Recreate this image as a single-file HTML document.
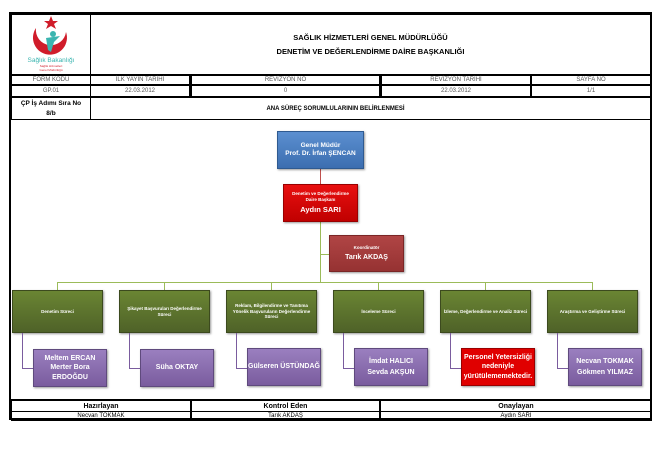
<!DOCTYPE html>
<html><head><meta charset="utf-8"><style>
body{margin:0;width:661px;height:459px;background:#fff;font-family:"Liberation Sans",sans-serif;position:relative;overflow:hidden}
.a{position:absolute;box-sizing:border-box}
.c{display:flex;align-items:center;justify-content:center;text-align:center}
.b{border:1px solid #000}
.g{font-size:6px;color:#555}
.bx{color:#fff;font-weight:bold;box-shadow:1px 1px 2px rgba(0,0,0,.4);flex-direction:column;line-height:1.3}
.pr{background:linear-gradient(#6a8533,#4f6228);border:1px solid #3c4a1e;font-size:4.5px}
.pe{background:linear-gradient(#9a7fbf,#7a5c9e);border:1px solid #5f4a7d;font-size:7px}
.ln{position:absolute;background:#9bbb59}
.lp{position:absolute;background:#7a5c9e}
</style></head><body>
<div class="a" style="left:9px;top:12px;width:643px;height:408px;border:2px solid #000"></div>
<div class="a" style="left:9px;top:12px;width:643px;height:2px;background:#000"></div>
<!-- header -->
<div class="a b" style="left:11px;top:14px;width:80px;height:61px"></div>
<svg class="a" style="left:18px;top:14px" width="66" height="58">
<polygon points="33,2 35,7 40,7 36,10 38,15 33,12 28,15 30,10 26,7 31,7" fill="#d01c2a"/>
<path d="M18 14 A17 17 0 1 0 48 18 A14 14 0 1 1 18 14Z" fill="#d01c2a"/>
<circle cx="35" cy="20" r="3" fill="#3bb5b0"/><path d="M28 24 L42 22 L36 28 L33 38 L30 36 Z" fill="#3bb5b0"/>
<text x="33" y="48" font-size="6.5" fill="#3bb5b0" text-anchor="middle" font-family="Liberation Sans">Sağlık Bakanlığı</text>
<text x="33" y="53" font-size="3" fill="#d01c2a" text-anchor="middle" font-family="Liberation Sans">Sağlık Hizmetleri</text>
<text x="33" y="57" font-size="3" fill="#d01c2a" text-anchor="middle" font-family="Liberation Sans">Genel Müdürlüğü</text>
</svg>
<div class="a b c" style="left:90px;top:14px;width:561px;height:61px;font-size:7.5px;font-weight:bold;line-height:1.8;flex-direction:column"><div>SAĞLIK HİZMETLERİ GENEL MÜDÜRLÜĞÜ</div><div>DENETİM VE DEĞERLENDİRME DAİRE BAŞKANLIĞI</div></div>
<div class="a b c g" style="left:11px;top:75px;width:80px;height:10px">FORM KODU</div>
<div class="a b c g" style="left:90px;top:75px;width:100px;height:10px">İLK YAYIN TARİHİ</div>
<div class="a b c g" style="left:190px;top:75px;width:191px;height:10px;border-width:1px 2px">REVİZYON NO</div>
<div class="a b c g" style="left:380px;top:75px;width:152px;height:10px;border-width:1px 2px">REVİZYON TARİHİ</div>
<div class="a b c g" style="left:531px;top:75px;width:120px;height:10px">SAYFA NO</div>
<div class="a b c g" style="left:11px;top:85px;width:80px;height:12px">GP.01</div>
<div class="a b c g" style="left:90px;top:85px;width:100px;height:12px">22.03.2012</div>
<div class="a b c g" style="left:190px;top:85px;width:191px;height:12px;border-width:1px 2px">0</div>
<div class="a b c g" style="left:380px;top:85px;width:152px;height:12px;border-width:1px 2px">22.03.2012</div>
<div class="a b c g" style="left:531px;top:85px;width:120px;height:12px">1/1</div>
<div class="a b c" style="left:11px;top:97px;width:80px;height:23px;font-size:6.5px;font-weight:bold;flex-direction:column;line-height:1.4"><div>ÇP İş Adımı Sıra No</div><div>8/b</div></div>
<div class="a b c" style="left:90px;top:97px;width:561px;height:23px;font-size:6px;font-weight:bold;padding-right:70px">ANA SÜREÇ SORUMLULARININ BELİRLENMESİ</div>
<!-- chart lines -->
<div class="a" style="left:320px;top:169px;width:1px;height:15px;background:#c0504d"></div>
<div class="ln" style="left:320px;top:222px;width:1px;height:60px"></div>
<div class="ln" style="left:320px;top:254px;width:10px;height:1px"></div>
<div class="ln" style="left:57px;top:282px;width:536px;height:1px"></div>
<div class="ln" style="left:57px;top:282px;width:1px;height:8px"></div>
<div class="ln" style="left:164px;top:282px;width:1px;height:8px"></div>
<div class="ln" style="left:271px;top:282px;width:1px;height:8px"></div>
<div class="ln" style="left:378px;top:282px;width:1px;height:8px"></div>
<div class="ln" style="left:485px;top:282px;width:1px;height:8px"></div>
<div class="ln" style="left:592px;top:282px;width:1px;height:8px"></div>
<!-- top boxes -->
<div class="a c bx" style="left:277px;top:131px;width:87px;height:38px;background:linear-gradient(#5b8fd0,#3c6eb0);border:1px solid #2f5a90;font-size:6.5px"><div>Genel Müdür</div><div>Prof. Dr. İrfan ŞENCAN</div></div>
<div class="a c bx" style="left:283px;top:184px;width:75px;height:38px;background:linear-gradient(#e81010,#c00000);border:1px solid #900;font-size:4.5px"><div>Denetim ve Değerlendirme<br>Daire Başkanı</div><div style="font-size:7.5px;margin-top:2px">Aydın SARI</div></div>
<div class="a c bx" style="left:329px;top:235px;width:75px;height:37px;background:linear-gradient(#b04545,#963232);border:1px solid #7a2626;font-size:4.5px"><div>Koordinatör</div><div style="font-size:7px;margin-top:2px">Tarık AKDAŞ</div></div>
<!-- process -->
<div class="a c bx pr" style="left:12px;top:290px;width:91px;height:43px">Denetim Süreci</div>
<div class="a c bx pr" style="left:119px;top:290px;width:91px;height:43px">Şikayet Başvuruları Değerlendirme Süreci</div>
<div class="a c bx pr" style="left:226px;top:290px;width:91px;height:43px">Reklam, Bilgilendirme ve Tanıtıma Yönelik Başvuruların Değerlendirme Süreci</div>
<div class="a c bx pr" style="left:333px;top:290px;width:91px;height:43px">İnceleme Süreci</div>
<div class="a c bx pr" style="left:440px;top:290px;width:91px;height:43px">İzleme, Değerlendirme ve Analiz Süreci</div>
<div class="a c bx pr" style="left:547px;top:290px;width:91px;height:43px">Araştırma ve Geliştirme Süreci</div>
<!-- connectors -->
<div class="lp" style="left:22px;top:333px;width:1px;height:35px"></div><div class="lp" style="left:22px;top:368px;width:11px;height:1px"></div>
<div class="lp" style="left:129px;top:333px;width:1px;height:35px"></div><div class="lp" style="left:129px;top:368px;width:11px;height:1px"></div>
<div class="lp" style="left:236px;top:333px;width:1px;height:35px"></div><div class="lp" style="left:236px;top:368px;width:11px;height:1px"></div>
<div class="lp" style="left:343px;top:333px;width:1px;height:35px"></div><div class="lp" style="left:343px;top:368px;width:11px;height:1px"></div>
<div class="lp" style="left:450px;top:333px;width:1px;height:35px"></div><div class="lp" style="left:450px;top:368px;width:11px;height:1px"></div>
<div class="lp" style="left:557px;top:333px;width:1px;height:35px"></div><div class="lp" style="left:557px;top:368px;width:11px;height:1px"></div>
<!-- persons -->
<div class="a c bx pe" style="left:33px;top:349px;width:74px;height:38px"><div>Meltem ERCAN</div><div>Merter Bora<br>ERDOĞDU</div></div>
<div class="a c bx pe" style="left:140px;top:349px;width:74px;height:38px">Süha OKTAY</div>
<div class="a c bx pe" style="left:247px;top:348px;width:74px;height:38px">Gülseren ÜSTÜNDAĞ</div>
<div class="a c bx pe" style="left:354px;top:348px;width:74px;height:38px"><div>İmdat HALICI</div><div style="margin-top:2px">Sevda AKŞUN</div></div>
<div class="a c bx" style="left:461px;top:348px;width:74px;height:38px;background:#e00000;border:1px solid #900;font-size:7px"><div>Personel Yetersizliği<br>nedeniyle<br>yürütülememektedir.</div></div>
<div class="a c bx pe" style="left:568px;top:348px;width:74px;height:38px"><div>Necvan TOKMAK</div><div style="margin-top:2px">Gökmen YILMAZ</div></div>
<!-- footer -->
<div class="a" style="left:9px;top:399px;width:643px;height:2px;background:#000"></div>
<div class="a b c" style="left:11px;top:400px;width:180px;height:12px;font-size:7px;font-weight:bold">Hazırlayan</div>
<div class="a b c" style="left:190px;top:400px;width:191px;height:12px;font-size:7px;font-weight:bold;border-width:1px 2px">Kontrol Eden</div>
<div class="a b c" style="left:380px;top:400px;width:272px;height:12px;font-size:7px;font-weight:bold">Onaylayan</div>
<div class="a b c" style="left:11px;top:411px;width:180px;height:10px;font-size:6px">Necvan TOKMAK</div>
<div class="a b c" style="left:190px;top:411px;width:191px;height:10px;font-size:6px;border-width:1px 2px">Tarık AKDAŞ</div>
<div class="a b c" style="left:380px;top:411px;width:272px;height:10px;font-size:6px">Aydın SARI</div>
</body></html>
